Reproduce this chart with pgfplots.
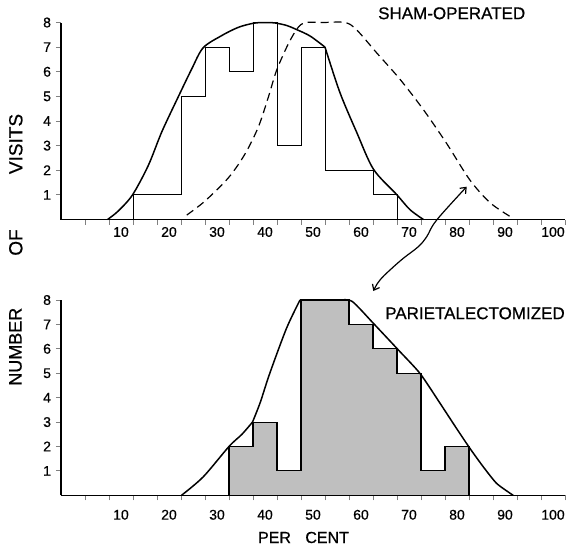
\documentclass[border=0pt]{standalone}
\usepackage{fontspec}
\setmainfont{Liberation Sans}[FakeBold=0.6]
\usepackage{pgfplots}
\pgfplotsset{compat=1.18}
\usetikzlibrary{arrows.meta}

% panel style shared by both histograms
\pgfplotsset{
  panel/.style={
    scale only axis, width=504pt, anchor=south west,
    xmin=-2.5, xmax=102.5, ymin=0, ymax=8,
    axis x line=bottom, axis y line=left,
    axis line style={-, line width=1.2pt},
    clip=false,
    tick align=outside,
    xtick={2.5,7.5,...,102.5}, xticklabels={},
    x tick style={line width=1pt},
    major tick length=5pt,
    extra x ticks={10,20,30,40,50,60,70,80,90,100},
    extra x tick style={major tick length=0pt},
    ytick={1,2,3,4,5,6,7,8},
    y tick style={line width=1pt},
    tick label style={font=\fontsize{14}{14}\selectfont},
    yticklabel style={xshift=-1.5pt},
    /pgf/number format/assume math mode=true,
  },
  curve/.style={line width=1.5pt, smooth, tension=0.5},
}

\begin{document}
\begin{tikzpicture}
\useasboundingbox (0pt,0pt) rectangle (572pt,547pt);

% sham-operated
\begin{axis}[panel, at={(61pt,327.5pt)}, height=197pt,
  xticklabel style={yshift=-4pt}]
\addplot[const plot, line width=1pt] coordinates {
  (12.5,0) (12.5,1) (22.5,5) (27.5,7) (32.5,6) (37.5,8)
  (42.5,3) (47.5,7) (52.5,2) (62.5,1) (67.5,0)};
\addplot[curve] coordinates {
  (7.2,0) (9.4,0.34) (12.4,1.0) (15.7,2.2) (18.5,3.56) (21.9,4.97)
  (24.7,6.1) (27.1,6.97) (30.9,7.46) (34.4,7.8) (37.6,7.97) (40,8.0)
  (42.1,7.98) (44.5,7.88) (46.5,7.72) (49.4,7.45) (52.5,7.0)};
\addplot[curve] coordinates {
  (52.5,7.0) (55.6,5.16) (59.1,3.54) (62.6,2.04) (67.4,1.02) (70.2,0.4) (73,0)};
\addplot[curve, line width=1.2pt, dash pattern=on 8pt off 5pt] coordinates {
  (23.7,0.18) (27.5,0.75) (32.4,1.7) (35.8,2.65) (38.6,3.75) (40.7,4.97)
  (42.4,6.05) (44.9,7.15) (46.9,7.8) (48.5,8) (52,8) (56.7,8) (59.1,7.7)
  (63.3,6.76) (68.1,5.7) (73,4.46) (77.8,3.1) (82.7,1.6) (86.9,0.68) (91,0.13)};
\end{axis}

% parietalectomized
\begin{axis}[panel, at={(61pt,51.7pt)}, height=195.3pt,
  xticklabel style={yshift=-11pt}]
\addplot[const plot, fill=black!25, line width=1.1pt] coordinates {
  (32.5,0) (32.5,2) (37.5,3) (42.5,1) (47.5,8) (57.5,7) (62.5,6)
  (67.5,5) (72.5,1) (77.5,2) (82.5,0)} \closedcycle;
\addplot[curve] coordinates {
  (22.6,0) (27.1,0.75) (32.5,2) (35.2,2.5) (37.4,3)};
\addplot[curve] coordinates {
  (37.4,3) (39,3.8) (41,5) (44.5,6.85) (47.3,8)};
\addplot[curve, tension=0.4] coordinates {
  (47.3,8) (55,8) (58.1,7.95) (62.6,7.04) (67.8,5.95) (72.3,4.99)
  (76.5,3.76) (79.9,2.74) (82.7,1.92) (85.5,1.16) (88.3,0.48) (91.7,0)};
\end{axis}

\draw[{Straight Barb[length=5pt,width=8pt]}-{Straight Barb[length=5pt,width=8pt]}, line width=1.2pt]
  plot[smooth, tension=0.6] coordinates {
  (373.3pt,256pt) (380pt,267pt) (390pt,277pt) (403.3pt,288.7pt) (418.3pt,300.3pt)
  (426.7pt,310.3pt) (436.7pt,327pt) (466.7pt,360.3pt)};

\node[font=\fontsize{17}{17}\selectfont] at (451.7pt,533.7pt) {SHAM-OPERATED};
\node[font=\fontsize{17}{17}\selectfont] at (475pt,233.7pt) {PARIETALECTOMIZED};
\node[font=\fontsize{19}{19}\selectfont, rotate=90] at (15.8pt,403pt) {VISITS};
\node[font=\fontsize{19}{19}\selectfont, rotate=90] at (15.8pt,304.5pt) {OF};
\node[font=\fontsize{18}{18}\selectfont, rotate=90] at (15.5pt,200.3pt) {NUMBER};
\node[font=\fontsize{16}{16}\selectfont] at (303.5pt,9.5pt) {PER\hspace{0.9em}CENT};
\end{tikzpicture}
\end{document}
